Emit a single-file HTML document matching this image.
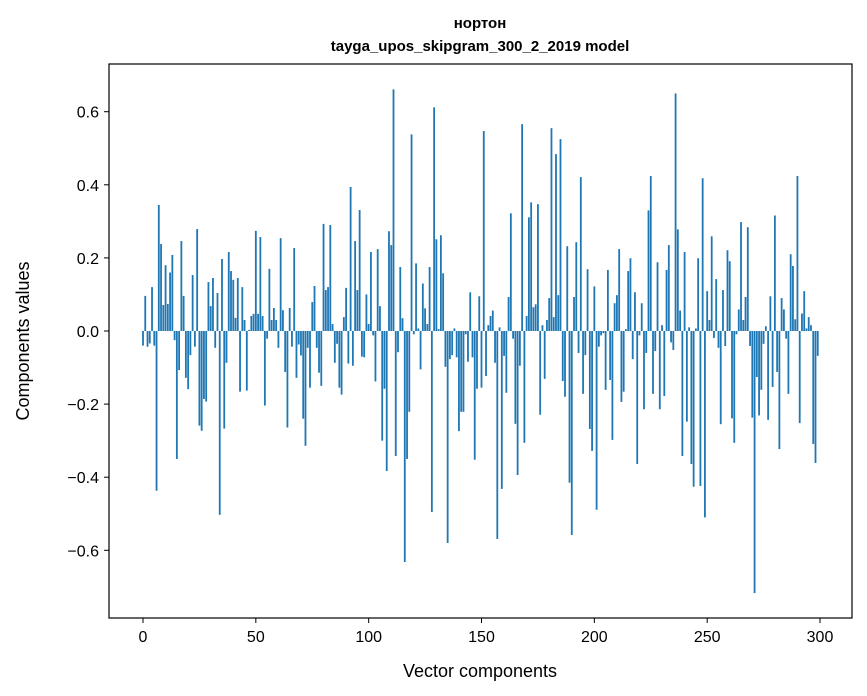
<!DOCTYPE html>
<html><head><meta charset="utf-8"><style>
body{margin:0;background:#fff;}
svg{display:block;font-family:"Liberation Sans","DejaVu Sans",sans-serif;}
</style></head><body>
<svg id="chart" width="867" height="696">
<text x="480" y="28" text-anchor="middle" font-size="15" font-weight="bold">нортон</text>
<text x="480" y="51" text-anchor="middle" font-size="15" font-weight="bold">tayga_upos_skipgram_300_2_2019 model</text>
<g id="bars"></g>
<g id="axes"></g>
<rect x="109" y="64" width="743" height="554" fill="none" stroke="#000" stroke-width="1.2"/>
<text x="480" y="677" text-anchor="middle" font-size="18">Vector components</text>
<text transform="translate(29,341) rotate(-90)" text-anchor="middle" font-size="18">Components values</text>
</svg>
<script>
const values = [-0.04,0.096,-0.043,-0.034,0.12,-0.04,-0.437,0.345,0.238,0.071,
0.18,0.074,0.16,0.208,-0.025,-0.35,-0.107,0.246,0.096,-0.128,
-0.159,-0.066,0.153,-0.043,0.279,-0.259,-0.273,-0.186,-0.193,0.134,
0.068,0.145,-0.046,0.104,-0.503,0.197,-0.267,-0.087,0.216,0.164,
0.14,0.036,0.145,-0.166,0.12,0.03,-0.163,0.003,0.041,0.047,
0.274,0.047,0.257,0.041,-0.204,-0.021,0.17,0.03,0.063,0.03,
-0.046,0.254,0.057,-0.112,-0.264,0.063,-0.043,0.227,-0.128,-0.037,
-0.067,-0.24,-0.314,-0.046,-0.155,0.079,0.123,-0.046,-0.114,-0.15,
0.293,0.112,0.12,0.29,0.019,-0.087,-0.035,-0.155,-0.174,0.038,
0.118,-0.089,0.394,-0.095,0.246,0.112,0.331,-0.07,-0.072,0.10,
0.019,0.216,-0.012,-0.138,0.224,0.068,-0.30,-0.158,-0.383,0.273,
0.235,0.661,-0.342,-0.058,0.175,0.035,-0.632,-0.35,-0.221,0.538,
-0.009,0.185,0.007,-0.105,0.13,0.062,0.019,0.175,-0.495,0.612,
0.251,0.005,0.262,0.158,-0.098,-0.58,-0.077,-0.066,0.007,-0.072,
-0.274,-0.221,-0.221,-0.009,-0.084,0.106,-0.072,-0.352,-0.158,0.095,
-0.155,0.547,-0.123,0.016,0.041,0.056,-0.087,-0.569,0.01,-0.432,
-0.068,-0.169,0.093,0.322,-0.021,-0.254,-0.394,-0.095,0.566,-0.306,
0.041,0.311,0.352,0.065,0.073,0.347,-0.229,0.016,-0.131,0.03,
0.09,0.555,0.038,0.484,0.098,0.525,-0.137,-0.18,0.232,-0.415,
-0.558,0.093,0.243,-0.06,0.421,-0.172,-0.066,0.169,-0.268,-0.328,
0.122,-0.489,-0.043,-0.012,-0.006,-0.161,0.167,-0.134,-0.298,0.076,
0.098,0.224,-0.194,-0.166,0.005,0.164,0.199,-0.077,0.106,-0.364,
-0.012,0.076,-0.214,-0.06,0.33,0.424,-0.172,-0.055,0.188,-0.214,
0.016,-0.178,0.167,0.235,-0.031,-0.052,0.65,0.278,0.056,-0.342,
0.216,-0.248,0.01,-0.364,-0.426,0.007,0.199,-0.424,0.418,-0.51,
0.109,0.03,0.259,-0.019,0.142,-0.046,-0.255,0.112,-0.041,0.221,
0.191,-0.239,-0.306,-0.009,0.059,0.298,0.03,0.093,0.284,-0.041,
-0.237,-0.717,-0.126,-0.231,-0.161,-0.035,0.013,-0.243,0.095,-0.153,
0.316,-0.112,-0.323,0.09,0.059,-0.021,-0.172,0.21,0.178,0.032,
0.424,-0.252,0.048,0.109,0.007,0.038,0.016,-0.309,-0.361,-0.068];
const xTicks = [0,50,100,150,200,250,300];
const yTicks = [-0.6,-0.4,-0.2,0.0,0.2,0.4,0.6];
const yTickLabels = ["\u22120.6","\u22120.4","\u22120.2","0.0","0.2","0.4","0.6"];

const NS="http://www.w3.org/2000/svg";
const xs = v => 143 + v*2.2567;
const ys = v => 331 - v*365.5;
const bars=document.getElementById('bars');
values.forEach((v,i)=>{
  const r=document.createElementNS(NS,'rect');
  const y0=Math.min(ys(v),ys(0)), h=Math.abs(ys(v)-ys(0));
  r.setAttribute('x',xs(i-0.4)); r.setAttribute('width',0.8*2.2567);
  r.setAttribute('y',y0); r.setAttribute('height',Math.max(h,0.3));
  r.setAttribute('fill','#1f77b4');
  
  
  bars.appendChild(r);
});
const axes=document.getElementById('axes');
xTicks.forEach(t=>{
  const l=document.createElementNS(NS,'line');
  l.setAttribute('x1',xs(t));l.setAttribute('x2',xs(t));l.setAttribute('y1',618);l.setAttribute('y2',623);l.setAttribute('stroke','#000');
  
  
  axes.appendChild(l);
  const tx=document.createElementNS(NS,'text');
  tx.setAttribute('x',xs(t));tx.setAttribute('y',642);tx.setAttribute('text-anchor','middle');tx.setAttribute('font-size','16');
  tx.textContent=t;
  
  
  axes.appendChild(tx);
});
yTicks.forEach((t,k)=>{
  const l=document.createElementNS(NS,'line');
  l.setAttribute('x1',104);l.setAttribute('x2',109);l.setAttribute('y1',ys(t));l.setAttribute('y2',ys(t));l.setAttribute('stroke','#000');
  
  
  axes.appendChild(l);
  const tx=document.createElementNS(NS,'text');
  tx.setAttribute('x',99);tx.setAttribute('y',ys(t)+6);tx.setAttribute('text-anchor','end');tx.setAttribute('font-size','16');
  tx.textContent=yTickLabels[k];
  
  
  axes.appendChild(tx);
});
</script>
</body></html>
